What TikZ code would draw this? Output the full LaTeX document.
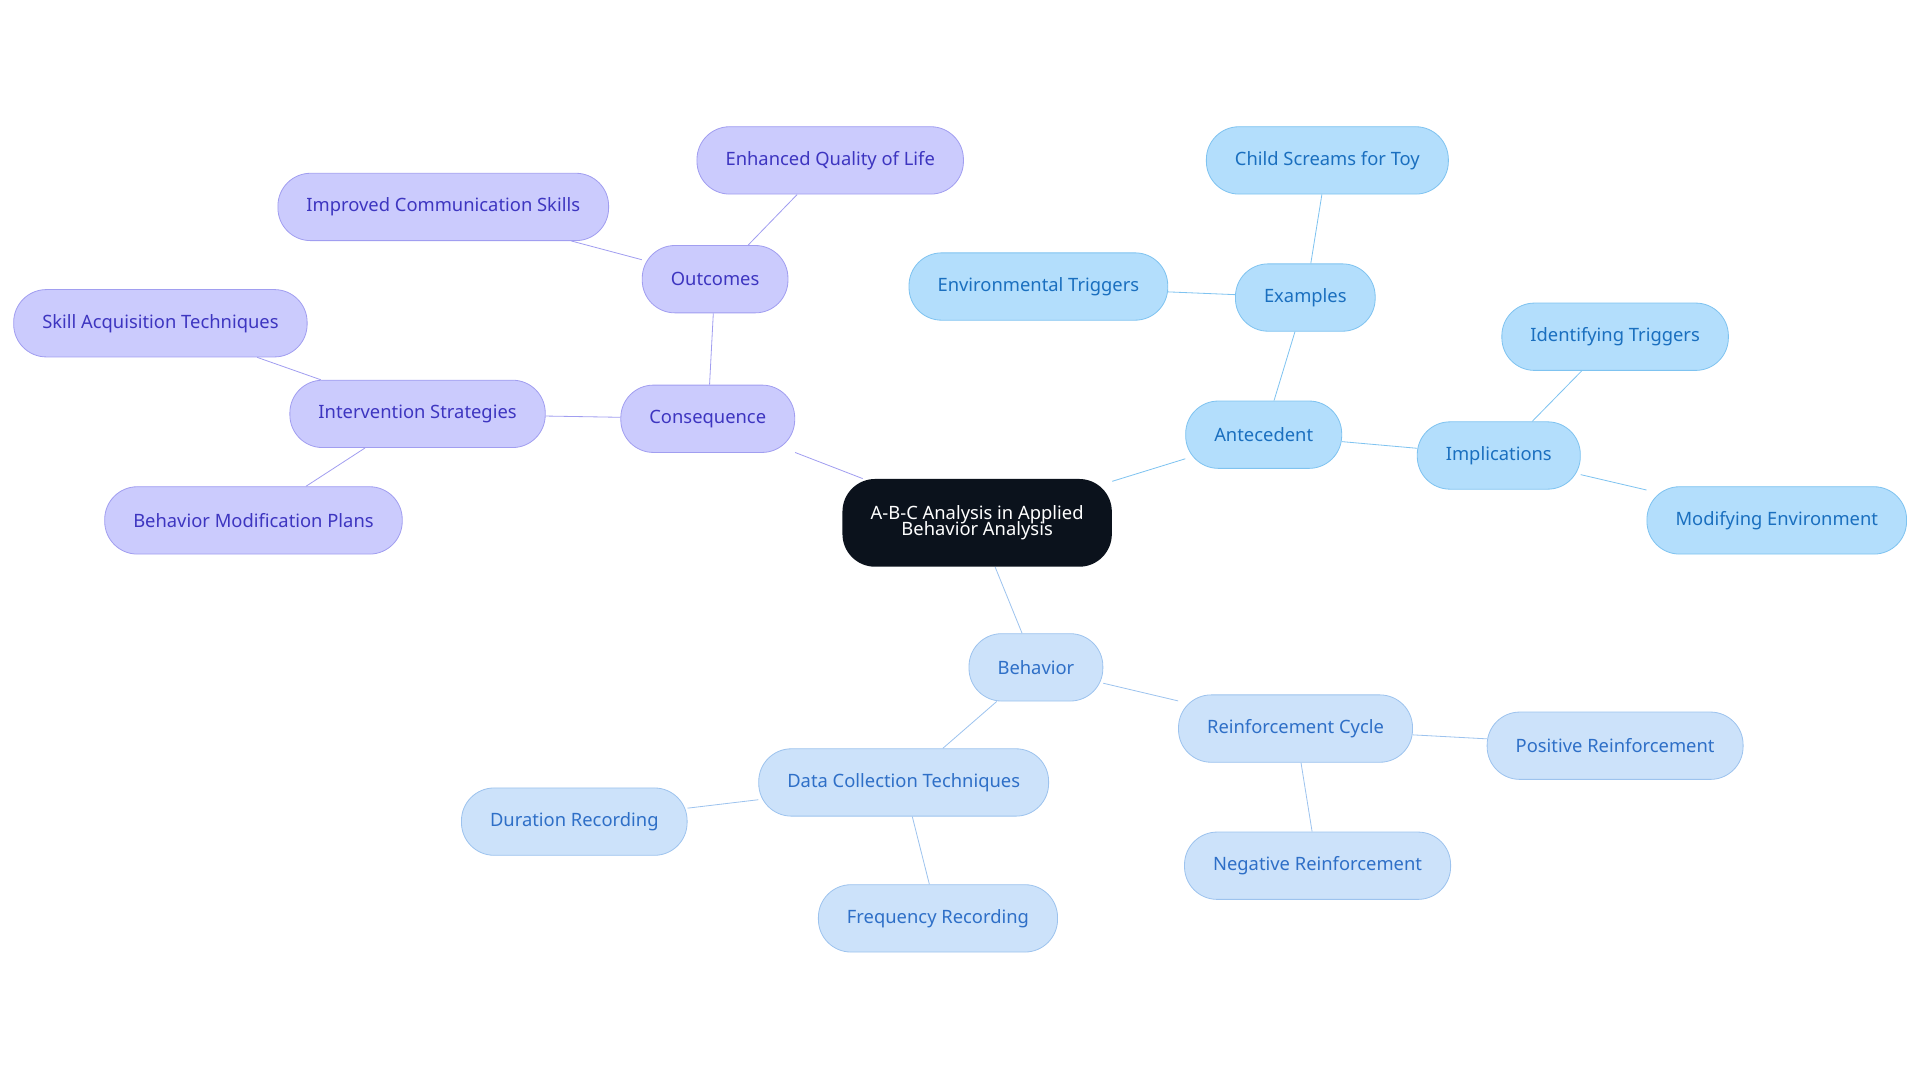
\documentclass[tikz,border=0pt]{standalone}
\usepackage{fontspec}
\setmainfont{Noto Sans}
\usetikzlibrary{backgrounds}
\definecolor{antfill}{HTML}{B3DEFC}
\definecolor{antdraw}{HTML}{7FC3F0}
\definecolor{anttext}{HTML}{1A6FBF}
\definecolor{behfill}{HTML}{CCE2FA}
\definecolor{behdraw}{HTML}{9DC3EE}
\definecolor{behtext}{HTML}{2E6FC7}
\definecolor{confill}{HTML}{CBCBFD}
\definecolor{condraw}{HTML}{A19EF0}
\definecolor{context}{HTML}{3D35C0}
\definecolor{rootfill}{HTML}{0B121C}
\begin{document}
\begin{tikzpicture}[x=0.6pt, y=-0.6pt, every node/.style={font=\fontsize{9}{10}\selectfont}]
    \tikzstyle{topic}=[rounded corners=16pt, minimum height=33pt, inner xsep=14pt, thin]
    \tikzstyle{ant}=[topic, fill=antfill, draw=antdraw, text=anttext]
    \tikzstyle{beh}=[topic, fill=behfill, draw=behdraw, text=behtext]
    \tikzstyle{con}=[topic, fill=confill, draw=condraw, text=context]
    \tikzstyle{root}=[rounded corners=16pt, fill=rootfill, text=white, minimum width=132pt, minimum height=43pt, align=center]

    \useasboundingbox (0,0) rectangle (1568,884);

    % Centre
    \node[root] (R) at (798,427) {A-B-C Analysis in Applied\\[-2pt]Behavior Analysis};

    % Antecedent branch
    \node[ant] (A) at (1032,355) {Antecedent};
    \node[ant] (A-ex) at (1066,243) {Examples};
    \node[ant] (A-ex-1) at (1084,131) {Child Screams for Toy};
    \node[ant] (A-ex-2) at (848,234) {Environmental Triggers};
    \node[ant] (A-im) at (1224,372) {Implications};
    \node[ant] (A-im-1) at (1319,275) {Identifying Triggers};
    \node[ant] (A-im-2) at (1451,425) {Modifying Environment};

    % Behavior branch
    \node[beh] (B) at (846,545) {Behavior};
    \node[beh] (B-rc) at (1058,595) {Reinforcement Cycle};
    \node[beh] (B-rc-1) at (1319,609) {Positive Reinforcement};
    \node[beh] (B-rc-2) at (1076,707) {Negative Reinforcement};
    \node[beh] (B-dc) at (738,639) {Data Collection Techniques};
    \node[beh] (B-dc-1) at (469,671) {Duration Recording};
    \node[beh] (B-dc-2) at (766,750) {Frequency Recording};

    % Consequence branch
    \node[con] (C) at (578,342) {Consequence};
    \node[con] (C-is) at (341,338) {Intervention Strategies};
    \node[con] (C-is-1) at (131,264) {Skill Acquisition Techniques};
    \node[con] (C-is-2) at (207,425) {Behavior Modification Plans};
    \node[con] (C-ou) at (584,228) {Outcomes};
    \node[con] (C-ou-1) at (362,169) {Improved Communication Skills};
    \node[con] (C-ou-2) at (678,131) {Enhanced Quality of Life};

    % Connections
    \begin{scope}[on background layer, line width=1.2pt]
        \foreach \a/\b in {R/A, A/A-ex, A-ex/A-ex-1, A-ex/A-ex-2, A/A-im, A-im/A-im-1, A-im/A-im-2}
            \draw[antdraw] (\a) -- (\b);
        \foreach \a/\b in {R/B, B/B-rc, B-rc/B-rc-1, B-rc/B-rc-2, B/B-dc, B-dc/B-dc-1, B-dc/B-dc-2}
            \draw[behdraw] (\a) -- (\b);
        \foreach \a/\b in {R/C, C/C-is, C-is/C-is-1, C-is/C-is-2, C/C-ou, C-ou/C-ou-1, C-ou/C-ou-2}
            \draw[condraw] (\a) -- (\b);
    \end{scope}
\end{tikzpicture}
\end{document}
